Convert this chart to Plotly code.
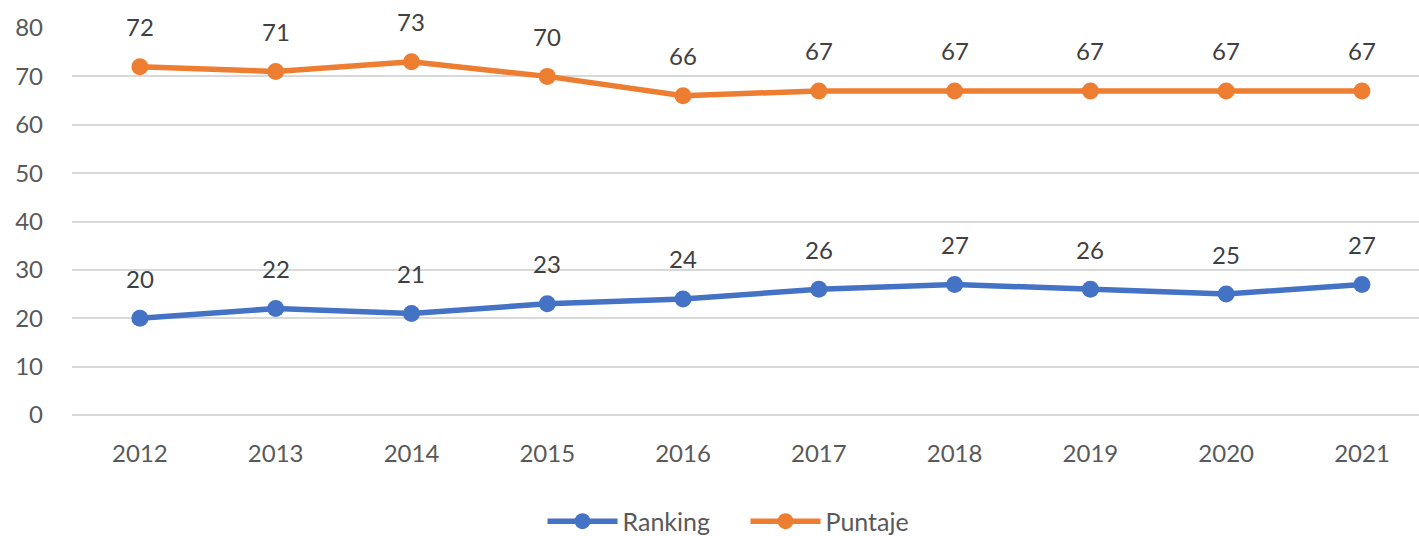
import plotly.graph_objects as go

years = ["2012", "2013", "2014", "2015", "2016", "2017", "2018", "2019", "2020", "2021"]
ranking = [20, 22, 21, 23, 24, 26, 27, 26, 25, 27]
puntaje = [72, 71, 73, 70, 66, 67, 67, 67, 67, 67]

BLUE = "#4472C4"
ORANGE = "#ED7D31"
GRAY = "#595959"
FONT = "Lato"

fig = go.Figure()
for name, vals, col in [("Ranking", ranking, BLUE), ("Puntaje", puntaje, ORANGE)]:
    fig.add_trace(go.Scatter(
        x=years, y=vals, name=name, mode="lines+markers",
        line=dict(color=col, width=5.5),
        marker=dict(color=col, size=17),
    ))
    for i, v in enumerate(vals):
        fig.add_annotation(x=i, y=v, xref="x", yref="y", text=str(v), showarrow=False,
                           yshift=40, font=dict(family=FONT, size=24, color="#404040"))

fig.update_layout(
    width=1419, height=536,
    margin=dict(l=72, r=0, t=28, b=121, autoexpand=False),
    paper_bgcolor="white", plot_bgcolor="white",
    font=dict(family=FONT, size=24, color=GRAY),
    showlegend=True,
    legend=dict(orientation="h", x=0.5, xanchor="center", y=-0.275, yanchor="middle",
                font=dict(family=FONT, size=25, color=GRAY), itemwidth=70,
                entrywidth=118, entrywidthmode="pixels"),
)
fig.update_xaxes(type="category", range=[-0.5, 9.42], showgrid=False, showline=False,
                 automargin=False, ticks="", ticklabelstandoff=22,
                 tickfont=dict(size=24, color=GRAY))
fig.update_yaxes(range=[0, 80], dtick=10, showgrid=True, gridcolor="#D9D9D9", gridwidth=2,
                 zeroline=True, zerolinecolor="#D9D9D9", zerolinewidth=2, showline=False,
                 automargin=False, ticks="", ticklabelstandoff=28,
                 tickfont=dict(size=24, color=GRAY))

fig.write_html("out.html", config={"displayModeBar": False},
               post_script="document.body.style.margin='0';")
